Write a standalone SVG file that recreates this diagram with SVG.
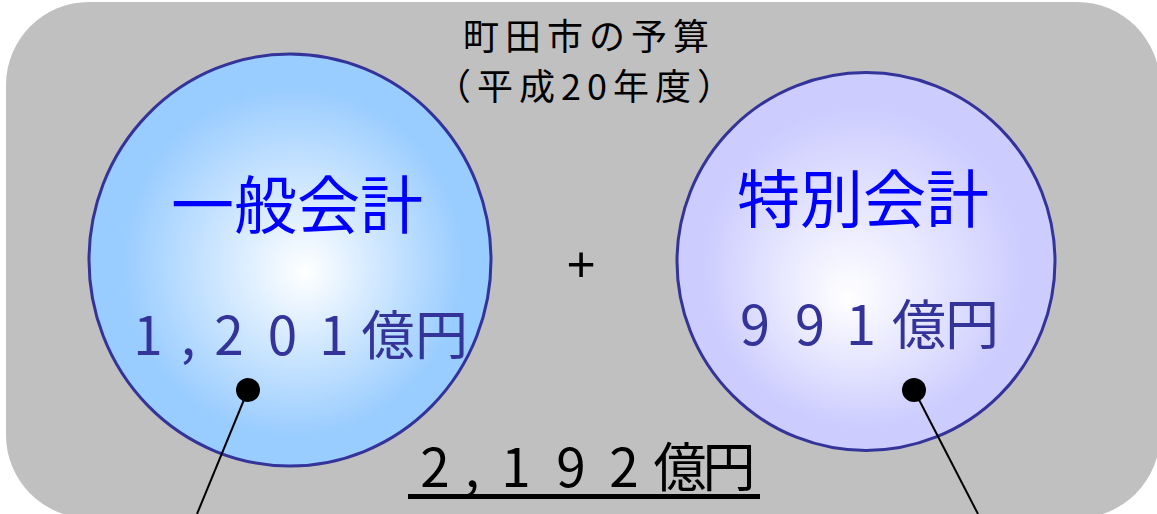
<svg xmlns="http://www.w3.org/2000/svg" width="1157" height="514" viewBox="0 0 1157 514">
  <defs>
    <radialGradient id="gLeft" cx="0.5" cy="0.5" r="0.5" fx="0.54" fy="0.53">
      <stop offset="0" stop-color="#ffffff"/>
      <stop offset="0.85" stop-color="#99ccff"/>
      <stop offset="1" stop-color="#99ccff"/>
    </radialGradient>
    <radialGradient id="gRight" cx="0.5" cy="0.5" r="0.5" fx="0.45" fy="0.6">
      <stop offset="0" stop-color="#ffffff"/>
      <stop offset="0.85" stop-color="#ccccff"/>
      <stop offset="1" stop-color="#ccccff"/>
    </radialGradient>
    <style>
      .jp { font-family: "Noto Sans CJK JP", "Noto Sans", sans-serif; }
      .title { font-size: 36px; fill: #000000; letter-spacing: 6px; }
      .head { font-size: 63px; fill: #0000ff; }
      .amt { font-size: 53px; fill: #333399; }
      .total { font-size: 53px; fill: #000000; }
      .ring { stroke: #333399; stroke-width: 3; }
      .dot { fill: #000000; }
      .lead { stroke: #000000; stroke-width: 2; fill: none; }
    </style>
  </defs>

  <g id="background">
    <rect x="6" y="2" width="1154" height="516" rx="83" ry="83" fill="#c0c0c0"/>
  </g>

  <g id="title" text-anchor="middle">
    <text class="jp title" x="589" y="50">町田市の予算</text>
    <text class="jp title" x="587" y="100">（平成20年度）</text>
  </g>

  <g id="node-general">
    <ellipse class="ring" cx="290" cy="260" rx="201" ry="206" fill="url(#gLeft)"/>
    <text class="jp head" x="297" y="228" text-anchor="middle">一般会計</text>
    <text class="jp amt" x="148 188 229 282.5 334 388 441.5" y="355" text-anchor="middle">1,201億円</text>
  </g>

  <g id="node-special">
    <circle class="ring" cx="866" cy="261.5" r="189" fill="url(#gRight)"/>
    <text class="jp head" x="863" y="222" text-anchor="middle">特別会計</text>
    <text class="jp amt" x="755 810 861 919 972" y="345" text-anchor="middle" style="font-size:54px">991億円</text>
  </g>

  <g id="plus">
    <text x="581" y="281" text-anchor="middle" style="font-family:'Liberation Sans', Arial, sans-serif; font-size:50px; fill:#000000">+</text>
  </g>

  <g id="total">
    <text class="jp total" x="435 472 516 571 624 680 729" y="487" text-anchor="middle">2,192億円</text>
    <rect x="408" y="494" width="352" height="5" fill="#000000"/>
  </g>

  <g id="connectors">
    <line class="lead" x1="248" y1="390" x2="197" y2="514"/>
    <line class="lead" x1="914" y1="390" x2="978" y2="514"/>
    <circle class="dot" cx="248" cy="390" r="12"/>
    <circle class="dot" cx="914" cy="390" r="12"/>
  </g>
</svg>
